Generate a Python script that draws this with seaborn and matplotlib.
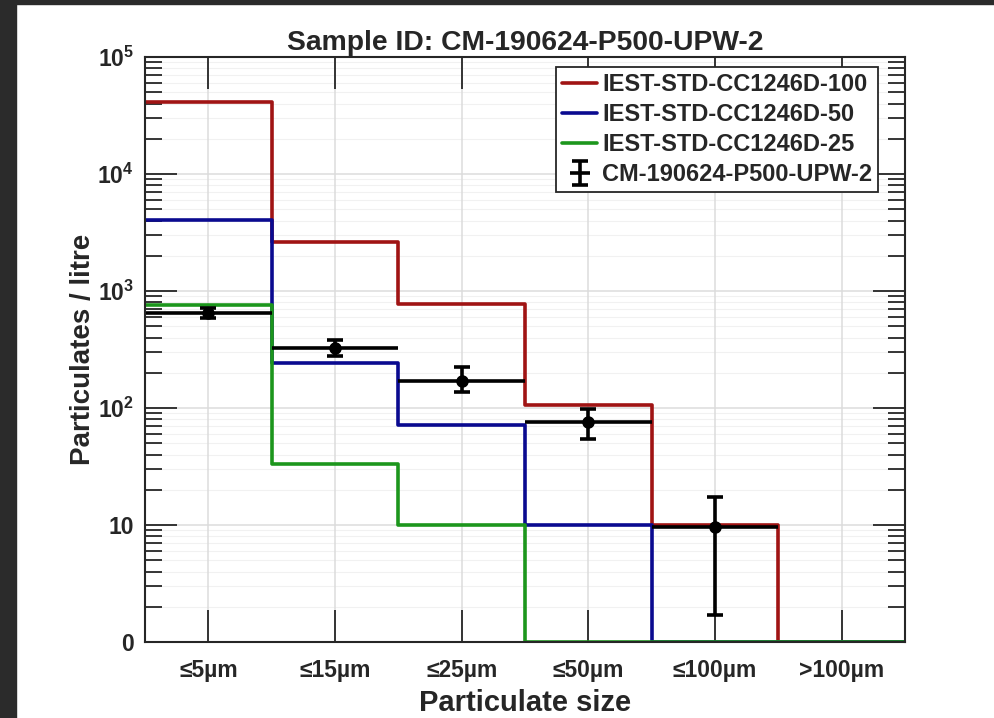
import numpy as np
import seaborn as sns
import matplotlib.pyplot as plt
from matplotlib.patches import Rectangle
from matplotlib.lines import Line2D
from matplotlib.legend_handler import HandlerTuple
from matplotlib.ticker import FixedLocator, LogLocator, NullFormatter

# size bins and values (particulates / litre)
categories = ["≤5µm", "≤15µm", "≤25µm", "≤50µm", "≤100µm", ">100µm"]
iest_100 = [41000, 2620, 775, 106, 10, 0]
iest_50 = [4050, 243, 72, 10, 0, 0]
iest_25 = [760, 33, 10, 0, 0, 0]
sample = [650, 326, 170, 76, 9.6]
sample_low = [588, 278, 137, 54, 1.7]
sample_high = [716, 381, 224, 99, 17.3]

sns.set_theme(style="white")
plt.rcParams["font.family"] = ["Liberation Sans", "DejaVu Sans"]
plt.rcParams["font.weight"] = "bold"
plt.rcParams["mathtext.fontset"] = "custom"
plt.rcParams["mathtext.rm"] = "Liberation Sans:bold"
plt.rcParams["mathtext.bf"] = "Liberation Sans:bold"

fig = plt.figure(figsize=(9.94, 7.18), dpi=100)
fig.patch.set_facecolor("white")
ax = fig.add_axes([145 / 994, 1 - 642 / 718, 760 / 994, 585 / 718])

# dark screenshot border on the left and top
fig.patches.append(Rectangle((0, 0), 16 / 994, 1, transform=fig.transFigure,
                             color="#2b2b2b", zorder=-1))
fig.patches.append(Rectangle((0, 1 - 4 / 718), 1, 4 / 718,
                             transform=fig.transFigure, color="#2b2b2b",
                             zorder=-1))

pos = np.arange(1, len(categories) + 1)
edges = np.append(pos - 0.5, pos[-1] + 0.5)


def step_values(vals):
    # repeat last value for steps-post; zero counts sit on the axis floor
    v = np.append(vals, vals[-1]).astype(float)
    return np.clip(v, 1, None)


series = [("IEST-STD-CC1246D-100", iest_100, "#a01414"),
          ("IEST-STD-CC1246D-50", iest_50, "#0a0a90"),
          ("IEST-STD-CC1246D-25", iest_25, "#1c961c")]
for name, vals, col in series:
    sns.lineplot(x=edges, y=step_values(vals), drawstyle="steps-post",
                 color=col, lw=2.6, label=name, ax=ax)

s = np.array(sample)
xs = pos[:len(s)]
yerr = [s - np.array(sample_low), np.array(sample_high) - s]
# horizontal bin-width bars (no caps), capped y errors, then the points
ax.errorbar(xs, s, xerr=0.5, fmt="none", ecolor="black", lw=2.6,
            capsize=0, zorder=5)
eb = ax.errorbar(xs, s, yerr=yerr, fmt="none", ecolor="black", lw=2.6,
                 capsize=5.5, capthick=2.6, zorder=6)
ax.plot(xs, s, "o", color="black", ms=8, zorder=7)

ax.set_yscale("log")
ax.set_ylim(1, 1e5)
ax.set_xlim(0.5, 6.5)
ax.yaxis.set_major_locator(FixedLocator([1, 10, 1e2, 1e3, 1e4, 1e5]))
ax.set_yticklabels(["0", "10", r"$10^2$", r"$10^3$", r"$10^4$", r"$10^5$"])
ax.yaxis.set_minor_locator(LogLocator(base=10, subs=np.arange(2, 10)))
ax.yaxis.set_minor_formatter(NullFormatter())
ax.set_xticks(pos)
ax.set_xticklabels(categories)

ax.set_axisbelow(True)
ax.grid(True, which="major", color="#dcdcdc", lw=1.1)
ax.grid(True, which="minor", axis="y", color="#f1f1f1", lw=0.8)
# draw x axis after y axis so y grid lines don't cut the x ticks
ax.xaxis.set_zorder(0.6)
ax.tick_params(which="both", direction="in", top=True, right=True,
               bottom=True, left=True, color="#262626", width=1.3)
ax.tick_params(which="major", length=23, labelsize=16.5, pad=12)
ax.tick_params(axis="y", which="major", pad=8)
ax.tick_params(which="minor", length=12)
for sp in ax.spines.values():
    sp.set_color("#262626")
    sp.set_linewidth(1.5)
    sp.set_zorder(7)

ax.set_title("Sample ID: CM-190624-P500-UPW-2", fontsize=20.3,
             fontweight="bold", pad=5)
ax.set_xlabel("Particulate size", fontsize=21, fontweight="bold", labelpad=5)
ax.set_ylabel("Particulates / litre", fontsize=20, fontweight="bold",
              labelpad=1)

# legend: sample entry shown as a cross with capped vertical bar
handles, labels = ax.get_legend_handles_labels()
hbar = Line2D([], [], ls="none", marker="_", ms=14, mew=2.6, color="black")
handles.append((hbar, eb))
labels.append("CM-190624-P500-UPW-2")
leg = ax.legend(handles, labels, loc="upper right",
                bbox_to_anchor=(0.9645, 0.983),
                handler_map={tuple: HandlerTuple(ndivide=1, pad=0)},
                fontsize=17, frameon=True, fancybox=False, borderpad=0.25,
                handlelength=1.5, handletextpad=0.2, labelspacing=0.3,
                borderaxespad=0, framealpha=1)
leg.get_frame().set_edgecolor("#262626")
leg.get_frame().set_linewidth(1.3)
leg.set_zorder(8)
for t in leg.get_texts():
    t.set_fontweight("bold")

fig.savefig("out.png", dpi=100, facecolor="white")
